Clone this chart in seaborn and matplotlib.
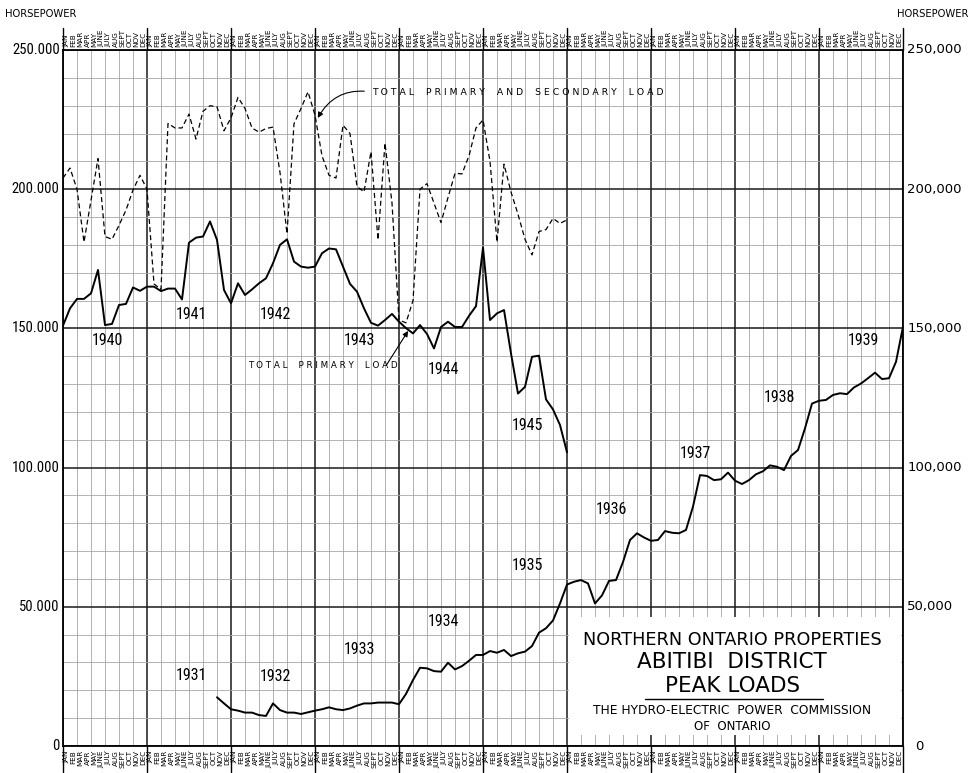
import matplotlib
matplotlib.use("Agg")
import matplotlib.pyplot as plt
import matplotlib.transforms as mtransforms
from matplotlib import font_manager
from matplotlib.font_manager import FontProperties
from matplotlib.patches import Rectangle
from matplotlib.ticker import MultipleLocator
import numpy as np
import pandas as pd
import seaborn as sns

# ---- data: peak load, thousands of horsepower, one value per month ----
MONTHS = ['JAN', 'FEB', 'MAR', 'APR', 'MAY', 'JUNE',
          'JULY', 'AUG', 'SEPT', 'OCT', 'NOV', 'DEC']

# 1931-1939 curve, first value is Nov 1931 (month 22 counted from Jan 1930),
# last value is Jan 1940 where it joins the upper curve at the right edge
LOWER_FIRST_MONTH = 22
lower_load = [
    17.5, 15.3,
    13.2, 12.7, 12.0, 12.0, 11.1, 10.8, 15.3, 12.9, 12.0, 12.0, 11.5, 12.1,
    12.7, 13.2, 13.9, 13.2, 12.9, 13.5, 14.5, 15.3, 15.3, 15.6, 15.6, 15.6,
    15.0, 18.7, 23.7, 28.1, 27.9, 26.9, 26.7, 29.9, 27.5, 28.7, 30.6, 32.7,
    32.7, 34.1, 33.5, 34.5, 32.3, 33.3, 33.9, 35.9, 40.7, 42.3, 45.1, 51.2,
    58.0, 59.0, 59.6, 58.4, 51.2, 54.1, 59.3, 59.6, 66.1, 74.0, 76.4, 74.9,
    73.7, 74.0, 77.2, 76.6, 76.4, 77.6, 86.0, 97.3, 97.0, 95.5, 95.8, 98.2,
    95.3, 94.1, 95.5, 97.6, 98.7, 100.8, 100.3, 99.1, 104.2, 106.3, 114.1, 123.0,
    124.0, 124.3, 126.1, 126.7, 126.4, 128.8, 130.2, 132.1, 134.1, 131.8, 132.1, 138.0,
    150.6,
]

# 1940-1945 curves, first value is Jan 1940 (drawn over the 1930 column)
primary_load = [
    151.0, 157.2, 160.6, 160.6, 162.6, 171.0, 151.2, 151.6, 158.4, 158.8, 164.7, 163.5,
    165.0, 165.0, 163.4, 164.3, 164.3, 160.4, 180.8, 182.6, 183.0, 188.4, 181.8, 163.8,
    159.0, 166.2, 162.0, 164.0, 166.2, 168.0, 173.4, 180.0, 182.0, 174.0, 172.2, 171.8,
    172.2, 177.0, 178.7, 178.4, 172.2, 166.0, 163.2, 157.2, 152.0, 151.0, 153.0, 155.2,
    152.4, 150.1, 148.2, 151.2, 148.0, 142.8, 150.5, 152.4, 150.5, 150.5, 154.5, 158.0,
    179.0, 153.0, 155.4, 156.6, 141.0, 126.6, 129.0, 139.8, 140.2, 124.5, 120.9, 115.3,
    105.5,
]
total_load = [
    204.0, 207.6, 200.0, 181.0, 196.0, 211.0, 183.0, 182.0, 187.0, 192.5, 199.7, 205.0,
    200.0, 166.0, 164.0, 223.6, 222.0, 222.0, 227.0, 218.0, 228.0, 230.0, 229.6, 221.0,
    225.6, 233.0, 229.0, 222.0, 220.5, 221.8, 222.3, 206.0, 184.0, 223.5, 229.0, 235.0,
    226.6, 212.0, 205.0, 204.0, 223.0, 220.0, 201.0, 199.0, 213.5, 181.8, 216.6, 195.0,
    153.0, 152.0, 160.0, 200.0, 202.0, 195.0, 188.0, 197.0, 205.7, 205.5, 212.0, 222.0,
    224.9, 210.0, 181.0, 209.0, 199.0, 191.0, 182.0, 176.4, 184.8, 185.5, 189.5, 187.7,
    189.0,
]

lower_years = ['1931', '1932', '1933', '1934', '1935', '1936', '1937', '1938', '1939']
upper_years = ['1940', '1941', '1942', '1943', '1944', '1945']
y_ticks = [0, 50, 100, 150, 200, 250]
left_tick_labels = ['0', '50.000', '100.000', '150.000', '200.000', '250.000']
right_tick_labels = ['0', '50,000', '100,000', '150,000', '200,000', '250,000']

# layout only: heights (thousand hp) where the year numbers sit
lower_year_y = [25.5, 24.9, 34.5, 44.6, 65.0, 85.0, 105.1, 125.3, 145.6]
upper_year_y = [145.6, 155.0, 155.1, 145.6, 135.3, 115.3]


def pick_font(names):
    for name in names:
        try:
            font_manager.findfont(FontProperties(family=name), fallback_to_default=False)
            return name
        except Exception:
            pass
    return 'DejaVu Sans'


def monthly_frame(values, first_month):
    return pd.DataFrame({'month': np.arange(first_month, first_month + len(values)),
                         'hp': np.asarray(values) * 1000})


sns.set_theme(style="white")
plt.rcParams['font.family'] = ['DejaVu Sans']
plt.rcParams['text.color'] = 'black'
NARROW = pick_font(['Liberation Sans Narrow', 'Roboto Condensed'])

fig = plt.figure(figsize=(9.73, 7.73), dpi=100)
ax = fig.add_axes([63 / 973, 1 - 746 / 773, 840 / 973, 696 / 773])

sns.lineplot(data=monthly_frame(lower_load, LOWER_FIRST_MONTH), x='month', y='hp',
             color='black', linewidth=1.4, ax=ax, zorder=5)
sns.lineplot(data=monthly_frame(primary_load, 0), x='month', y='hp',
             color='black', linewidth=1.4, ax=ax, zorder=5)
sns.lineplot(data=monthly_frame(total_load, 0), x='month', y='hp',
             color='black', linewidth=0.9, ax=ax, zorder=5)
ax.lines[-1].set_dashes([4, 2.5])

ax.set_xlim(0, 120)
ax.set_ylim(0, 250000)
ax.set_xlabel('')
ax.set_ylabel('')
ax.xaxis.set_major_locator(MultipleLocator(12))
ax.xaxis.set_minor_locator(MultipleLocator(2))
ax.yaxis.set_major_locator(MultipleLocator(50000))
ax.yaxis.set_minor_locator(MultipleLocator(10000))
ax.grid(which='minor', color='#a6a6a6', linewidth=0.6)
ax.grid(which='major', color='#1a1a1a', linewidth=1.1)
ax.set_axisbelow(True)
ax.tick_params(which='both', length=0, labelbottom=False, labelleft=False)
for sp in ax.spines.values():
    sp.set_color('black')
    sp.set_linewidth(1.3)

# month names above and below the grid, year separators through them
xt = mtransforms.blended_transform_factory(ax.transData, ax.transAxes)
for m in range(120):
    name = MONTHS[m % 12]
    ax.text(m + 0.5, 1.004, name, rotation=90, ha='center', va='bottom',
            fontsize=5.2, transform=xt, clip_on=False)
    ax.text(m + 0.5, -0.006, name, rotation=90, ha='center', va='top',
            fontsize=5.2, transform=xt, clip_on=False)
for yr in range(11):
    ax.plot([yr * 12, yr * 12], [1.0, 1.032], color='black', lw=1.0,
            transform=xt, clip_on=False)
    ax.plot([yr * 12, yr * 12], [0.0, -0.038], color='black', lw=1.0,
            transform=xt, clip_on=False)

# value labels on both sides
yt = mtransforms.blended_transform_factory(ax.transAxes, ax.transData)
for v, lab in zip(y_ticks, left_tick_labels):
    ax.text(-0.004, v * 1000, lab, ha='right', va='center', fontsize=10.5,
            family=NARROW, transform=yt)
for v, lab in zip(y_ticks, right_tick_labels):
    ax.text(1.005 if v else 1.014, v * 1000, lab, ha='left', va='center',
            fontsize=9.5, transform=yt)
fig.text(5 / 973, 1 - 14 / 773, 'HORSEPOWER', ha='left', va='center', fontsize=7.2)
fig.text(968 / 973, 1 - 14 / 773, 'HORSEPOWER', ha='right', va='center', fontsize=7.2)

# year numbers
for k, (lab, yv) in enumerate(zip(lower_years, lower_year_y)):
    ax.text(12 * (k + 1) + 6.4, yv * 1000, lab, ha='center', va='center',
            fontsize=11.5, family=NARROW, zorder=6)
for k, (lab, yv) in enumerate(zip(upper_years, upper_year_y)):
    ax.text(12 * k + 6.4, yv * 1000, lab, ha='center', va='center',
            fontsize=11.5, family=NARROW, zorder=6)

# curve call-outs
ax.annotate('T O T A L    P R I M A R Y    A N D    S E C O N D A R Y    L O A D',
            xy=(36.4, 225600), xytext=(44.1, 234900), fontsize=6.7,
            ha='left', va='center', zorder=6,
            arrowprops=dict(arrowstyle='-|>', color='black', lw=0.8,
                            mutation_scale=8, shrinkA=3, shrinkB=0, relpos=(0, 0.5),
                            connectionstyle='arc3,rad=0.35'))
ax.text(26.4, 136500, 'T O T A L    P R I M A R Y    L O A D', fontsize=6.3,
        ha='left', va='center', zorder=6)
ax.annotate('', xy=(49.3, 149100), xytext=(46.2, 136800),
            arrowprops=dict(arrowstyle='-|>', color='black', lw=0.8,
                            mutation_scale=8, shrinkA=0, shrinkB=0), zorder=6)

# title block
ax.add_patch(Rectangle((72.25, 4000), 47.4, 42300, facecolor='white',
                       edgecolor='none', zorder=3))
cx = 95.6
ax.text(cx, 38100, 'NORTHERN ONTARIO PROPERTIES', ha='center', va='center',
        fontsize=12.7, zorder=6)
ax.text(cx, 30300, 'ABITIBI  DISTRICT', ha='center', va='center', fontsize=15.5, zorder=6)
ax.text(cx, 21600, 'PEAK LOADS', ha='center', va='center', fontsize=15.5, zorder=6)
ax.plot([83.1, 108.6], [16900, 16900], color='black', lw=1.0, zorder=6)
ax.text(cx, 12900, 'THE HYDRO-ELECTRIC  POWER  COMMISSION', ha='center', va='center',
        fontsize=8.8, zorder=6)
ax.text(cx, 6900, 'OF  ONTARIO', ha='center', va='center', fontsize=8.5, zorder=6)

fig.savefig('out.png', dpi=100)
